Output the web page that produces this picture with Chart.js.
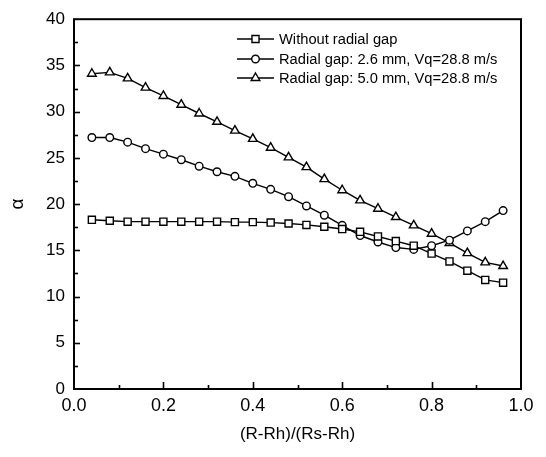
<!DOCTYPE html>
<html>
<head>
<meta charset="utf-8">
<script src="https://cdn.jsdelivr.net/npm/chart.js"></script>
<style>
    html, body { margin: 0; padding: 0; background: #fff; }
    #chart { display: block; }
</style>
</head>
<body>
<canvas id="chart" width="546" height="457"></canvas>
<script>
// posicoes radiais (R-Rh)/(Rs-Rh)
const posicoes = [0.04, 0.08, 0.12, 0.16, 0.20, 0.24, 0.28, 0.32, 0.36, 0.40, 0.44, 0.48,
                  0.52, 0.56, 0.60, 0.64, 0.68, 0.72, 0.76, 0.80, 0.84, 0.88, 0.92, 0.96];

const semFolga = [18.3, 18.2, 18.1, 18.1, 18.1, 18.1, 18.1, 18.1, 18.05, 18.05, 18.0, 17.9,
                  17.75, 17.55, 17.3, 17.0, 16.5, 16.0, 15.5, 14.65, 13.8, 12.8, 11.8, 11.5];
const folga26 = [27.2, 27.2, 26.7, 26.0, 25.4, 24.8, 24.1, 23.5, 23.0, 22.25, 21.6, 20.8,
                 19.8, 18.8, 17.7, 16.6, 15.9, 15.3, 15.1, 15.5, 16.1, 17.1, 18.1, 19.3];
const folga50 = [34.1, 34.25, 33.6, 32.6, 31.7, 30.75, 29.8, 28.9, 27.95, 27.05, 26.1, 25.05,
                 24.0, 22.7, 21.5, 20.4, 19.5, 18.6, 17.7, 16.8, 15.8, 14.7, 13.7, 13.3];

const nomes = ['Without radial gap', 'Radial gap: 2.6 mm, Vq=28.8 m/s', 'Radial gap: 5.0 mm, Vq=28.8 m/s'];
const marcadores = ['rect', 'circle', 'triangle'];
const raios = [5, 3.8, 5];

const fonte = '"Liberation Sans", Arial, sans-serif';

function pares(ys) {
    return posicoes.map(function(x, i) { return { x: x, y: ys[i] }; });
}

function serie(i, ys) {
    return {
        label: nomes[i],
        data: pares(ys),
        borderColor: '#000',
        borderWidth: 1.4,
        backgroundColor: '#fff',
        pointStyle: marcadores[i],
        pointRadius: raios[i],
        pointBorderWidth: 1.4,
        pointBackgroundColor: '#fff',
        pointBorderColor: '#000',
        fill: false,
        tension: 0
    };
}

// moldura e ticks para dentro
const moldura = {
    id: 'moldura',
    beforeDatasetsDraw(chart) {
        const ctx = chart.ctx;
        const a = chart.chartArea;
        const sx = chart.scales.x;
        const sy = chart.scales.y;
        ctx.save();
        ctx.strokeStyle = '#000';
        ctx.lineWidth = 1.6;
        for (let k = 1; k < 10; k++) {
            const px = Math.round(sx.getPixelForValue(k / 10)) + 0.5;
            const len = k % 2 === 0 ? 7 : 4;
            ctx.beginPath();
            ctx.moveTo(px, a.bottom);
            ctx.lineTo(px, a.bottom - len);
            ctx.stroke();
        }
        for (let k = 1; k < 16; k++) {
            const py = Math.round(sy.getPixelForValue(k * 2.5)) + 0.5;
            const len = k % 2 === 0 ? 6 : 4;
            ctx.beginPath();
            ctx.moveTo(a.left, py);
            ctx.lineTo(a.left + len, py);
            ctx.stroke();
        }
        ctx.lineWidth = 2;
        ctx.strokeRect(a.left, a.top, a.right - a.left, a.bottom - a.top);
        ctx.restore();
    }
};

function desenhaMarcador(ctx, tipo, x, y, r) {
    ctx.beginPath();
    if (tipo === 'rect') {
        const s = r * Math.SQRT1_2;
        ctx.rect(x - s, y - s, 2 * s, 2 * s);
    } else if (tipo === 'circle') {
        ctx.arc(x, y, r, 0, Math.PI * 2);
    } else {
        for (let j = 0; j < 3; j++) {
            const ang = j * 2 * Math.PI / 3;
            const px = x + Math.sin(ang) * r;
            const py = y - Math.cos(ang) * r;
            if (j === 0) ctx.moveTo(px, py); else ctx.lineTo(px, py);
        }
        ctx.closePath();
    }
    ctx.fill();
    ctx.stroke();
}

// legenda dentro do grafico, canto superior direito
const legenda = {
    id: 'legenda',
    afterDatasetsDraw(chart) {
        const ctx = chart.ctx;
        ctx.save();
        ctx.strokeStyle = '#000';
        ctx.fillStyle = '#fff';
        ctx.lineWidth = 1.4;
        ctx.font = '14.7px ' + fonte;
        ctx.textBaseline = 'middle';
        const linhas = [39, 59, 78];
        chart.data.datasets.forEach(function(ds, i) {
            const y = linhas[i];
            ctx.beginPath();
            ctx.moveTo(237, y);
            ctx.lineTo(274, y);
            ctx.stroke();
            desenhaMarcador(ctx, ds.pointStyle, 255.5, y, ds.pointRadius);
            ctx.fillStyle = '#000';
            ctx.fillText(ds.label, 279, y + 0.5);
            ctx.fillStyle = '#fff';
        });
        ctx.restore();
    }
};

const ctx = document.getElementById('chart').getContext('2d');
const chart = new Chart(ctx, {
    type: 'line',
    data: {
        datasets: [serie(0, semFolga), serie(1, folga26), serie(2, folga50)]
    },
    options: {
        responsive: false,
        animation: false,
        devicePixelRatio: 1,
        layout: { padding: { left: 0, top: 12, right: 25, bottom: 0 } },
        plugins: {
            legend: { display: false },
            tooltip: { enabled: false }
        },
        scales: {
            x: {
                type: 'linear',
                min: 0,
                max: 1,
                afterFit: function(s) { s.height = 68; },
                grid: { display: false, drawTicks: false },
                border: { display: false },
                ticks: {
                    stepSize: 0.2,
                    padding: 6,
                    color: '#000',
                    font: { family: fonte, size: 18 },
                    maxRotation: 0,
                    callback: function(v) { return v.toFixed(1); }
                },
                title: {
                    display: true,
                    text: '(R-Rh)/(Rs-Rh)',
                    color: '#000',
                    font: { family: fonte, size: 17 },
                    padding: { top: 0, bottom: 12 }
                }
            },
            y: {
                min: 0,
                max: 40,
                afterFit: function(s) { s.width = 74; },
                grid: { display: false, drawTicks: false },
                border: { display: false },
                ticks: {
                    stepSize: 5,
                    padding: 9,
                    color: '#000',
                    font: { family: fonte, size: 17 }
                },
                title: {
                    display: true,
                    text: 'α',
                    color: '#000',
                    font: { family: fonte, size: 19 },
                    padding: { top: 6, bottom: 0 }
                }
            }
        }
    },
    plugins: [moldura, legenda]
});
</script>
</body>
</html>
